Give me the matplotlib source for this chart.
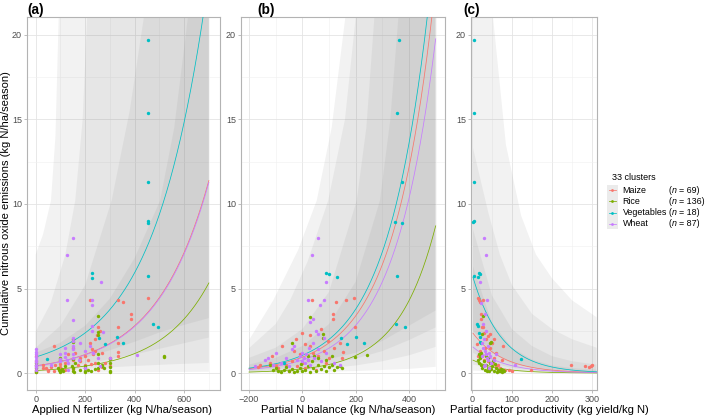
import matplotlib
matplotlib.use('Agg')
import matplotlib.pyplot as plt
from matplotlib.lines import Line2D
from matplotlib.patches import Rectangle
import numpy as np

plt.rcParams['font.family'] = ['Liberation Sans', 'DejaVu Sans']

W, H = 709, 419

groups = ['Maize', 'Rice', 'Vegetables', 'Wheat']
group_n = [69, 136, 18, 87]
colors = ['#F8766D', '#7CAE00', '#00BFC4', '#C77CFF']

# ---------------- panel (a): applied N fertilizer ----------------
a_maize_x = [219, 332, 354, 456, 386, 386, 332, 332, 332, 332, 73, 247, 240, 228, 219, 250, 260, 230, 270, 200,
             180, 150, 130, 160, 240, 225, 170, 120, 100, 80, 60, 40, 30, 0, 0, 0, 0, 50, 75, 150,
             200, 280, 300, 250, 270, 120, 0, 100, 150, 180, 210, 300, 240, 30, 48, 99]
a_maize_y = [4.3, 4.3, 4.2, 4.45, 3.5, 3.2, 2.7, 1.76, 1.27, 1.0, 1.62, 2.25, 2.0, 1.45, 1.76, 2.7, 2.5, 1.1, 1.2, 1.0,
             0.9, 0.8, 1.1, 1.2, 1.3, 0.55, 0.45, 0.6, 0.55, 0.45, 0.35, 0.3, 0.5, 0.4, 0.7, 1.0, 0.2, 0.15, 0.15, 0.25,
             0.5, 0.6, 0.9, 0.2, 0.35, 0.2, 0.05, 0.35, 1.5, 0.7, 0.8, 0.4, 0.6, 0.33, 0.17, 0.17]
a_rice_x = [517, 517, 253, 253, 253, 253, 150, 150, 0, 0, 0, 0, 0, 90, 95, 100, 100, 105, 110, 145,
            150, 150, 155, 150, 200, 200, 200, 200, 210, 225, 240, 250, 250, 270, 270, 275, 300, 300, 300, 300,
            300, 180, 160, 100, 100, 120]
a_rice_y = [1.0, 0.95, 3.37, 2.4, 2.25, 1.1, 2.0, 1.85, 0.6, 0.45, 0.3, 0.15, 0.05, 0.3, 0.2, 0.1, 0.05, 0.25, 0.15, 0.4,
            0.3, 0.15, 0.05, 0.85, 0.4, 0.3, 0.1, 0.05, 0.2, 0.15, 0.25, 0.6, 0.3, 0.5, 0.4, 0.3, 0.85, 0.6, 0.35, 0.15,
            0.05, 0.2, 0.6, 0.9, 0.8, 0.4]
a_veg_x = [456, 456, 456, 456, 456, 456, 473, 493, 228, 228, 328, 353, 257, 279, 46]
a_veg_y = [19.7, 15.4, 11.3, 9.0, 8.9, 5.72, 2.9, 2.74, 5.9, 5.64, 2.15, 1.8, 2.06, 1.7, 0.81]
a_wheat_x = [151, 127, 127, 151, 265, 226, 226, 272, 226, 226, 409, 0, 0, 0, 0, 0, 0, 0, 0, 0,
             100, 100, 100, 120, 120, 120, 125, 130, 150, 150, 150, 150, 150, 150, 175, 180, 200, 220, 230, 250,
             260, 200, 60, 130, 300]
a_wheat_y = [7.97, 6.98, 4.32, 3.14, 5.4, 4.3, 4.0, 2.4, 2.8, 2.5, 1.07, 1.4, 1.25, 1.1, 0.95, 0.8, 0.65, 0.5, 0.35, 0.2,
             1.1, 0.85, 0.7, 1.5, 1.2, 0.95, 0.8, 0.6, 2.1, 1.9, 1.6, 1.4, 1.1, 0.9, 0.8, 1.8, 1.3, 1.6, 1.2, 0.9,
             0.4, 0.3, 0.5, 0.2, 0.9]
# fitted curves y = a * exp(b * x)
a_fit_a = [0.43, 0.15, 0.95, 0.42]
a_fit_b = [0.00468, 0.0051, 0.00458, 0.00470]
a_range = (0, 700)
a_upper = [[(0, 7.0), (30, 8.2), (62, 10.2), (80, 14.0), (93, 21), (110, 32), (700, 32)],
           [(0, 2.44), (60, 4.1), (120, 7.0), (160, 10.2), (190, 15), (208, 21), (230, 32), (700, 32)],
           [(0, 1.5), (100, 2.8), (200, 5.2), (307, 10.2), (380, 15.5), (437, 21), (480, 32), (700, 32)],
           [(0, 1.2), (100, 1.8), (200, 2.8), (300, 4.4), (400, 6.8), (503, 10.2), (560, 14.5), (615, 21),
            (660, 32), (700, 32)]]
a_lower = [[(0, 0.02), (350, 0.04), (700, 0.08)],
           [(0, 0.1), (200, 0.25), (400, 0.42), (550, 0.52), (700, 0.6)],
           [(0, 0.2), (200, 0.55), (400, 1.1), (550, 1.6), (700, 2.1)],
           [(0, 0.3), (100, 0.55), (200, 0.9), (300, 1.35), (400, 1.85), (500, 2.4), (600, 2.85), (700, 3.25)]]

# ---------------- panel (b): partial N balance ----------------
b_maize_x = [37.5, 128, 164, 192, 114, 114, 197.8, 0, 29, -22, -75, 154, -115, -166, -160, -120, -100, -90, -60, -40,
             -20, 0, 10, 20, 40, 60, 80, 90, 100, 120, 140, 30, -10, 50, -50, 70, 95, 150, -30, 10]
b_maize_y = [4.32, 4.2, 4.3, 4.45, 3.5, 3.2, 2.7, 2.35, 2.25, 2.0, 1.62, 1.27, 1.0, 0.36, 0.45, 0.6, 0.4, 0.3, 0.5, 0.7,
             0.4, 0.6, 0.3, 0.8, 1.2, 1.0, 1.3, 0.6, 0.9, 1.5, 1.8, 1.6, 1.1, 0.2, 0.15, 2.6, 1.9, 0.9, 1.3, 1.7]
b_rice_x = [29, 76.5, 76.5, 241.5, 197.8, -40, -100, -90, -80, -70, -60, -50, -40, -30, -20, -10, 0, 10, 20, 30,
            40, 50, 60, 70, 80, 90, 100, 110, 120, 130, 140, 150, -110, -120, 35, 60, 90, 20, -5, 45, 110]
b_rice_y = [3.33, 2.3, 2.1, 1.06, 0.97, 1.76, 0.3, 0.15, 0.05, 0.2, 0.35, 0.1, 0.25, 0.05, 0.15, 0.3, 0.1, 0.2, 0.4, 0.05,
            0.3, 0.15, 0.5, 0.25, 0.4, 0.1, 0.35, 0.5, 0.2, 0.35, 0.4, 0.3, 0.2, 0.45, 0.7, 0.9, 0.8, 1.0, 0.55, 1.0, 1.0]
b_veg_x = [363, 356.5, 375, 349, 375, 356.5, 351, 384, 89, 101, 130, 144, 201.5, 232.6, 168, -67.5]
b_veg_y = [19.7, 15.4, 11.3, 8.95, 8.9, 5.72, 2.9, 2.74, 5.9, 5.86, 5.66, 2.06, 2.15, 1.8, 1.7, 0.61]
b_wheat_x = [57.8, 35, 89, 22.5, 83, 67.5, 40, 30, 50, 60, -130, -177, -140, -100, -80, -60, -40, -30, -20, -10,
             0, 0, 5, 10, 15, 20, 25, 30, 40, 45, 60, 70, 90, 120, 140, -50, 80, -110]
b_wheat_y = [7.97, 6.98, 5.4, 4.32, 4.32, 4.0, 3.2, 3.0, 2.5, 2.3, 0.9, 0.4, 0.8, 1.2, 0.6, 0.9, 1.4, 1.6, 0.8, 1.0,
             0.7, 1.2, 0.9, 0.6, 1.1, 0.8, 1.5, 0.5, 1.8, 0.9, 1.4, 0.7, 1.2, 0.6, 0.5, 0.4, 2.1, 0.5]
b_fit_a = [0.94, 0.25, 1.05, 0.77]
b_fit_b = [0.0064, 0.0071, 0.0064, 0.00649]
b_range = (-200, 500)
b_upper = [[(-200, 1.95), (-109, 4.3), (-15, 7.3), (54, 10.2), (110, 14.5), (161, 21), (185, 32), (500, 32)],
           [(-200, 1.47), (-100, 2.9), (-46, 4.3), (20, 6.6), (97, 10.2), (160, 15), (200, 21), (225, 32), (500, 32)],
           [(-200, 0.9), (-100, 1.5), (0, 2.6), (100, 4.8), (204, 10.2), (240, 14.5), (270, 21), (295, 32), (500, 32)],
           [(-200, 0.5), (-100, 0.9), (0, 1.6), (100, 2.9), (200, 5.4), (291, 10.2), (330, 15), (360, 21),
            (385, 32), (500, 32)]]
b_lower = [[(-200, 0.02), (0, 0.05), (200, 0.12), (400, 0.25), (500, 0.37)],
           [(-200, 0.05), (0, 0.15), (200, 0.45), (300, 0.7), (400, 1.05), (500, 1.55)],
           [(-200, 0.1), (0, 0.3), (200, 0.85), (300, 1.3), (400, 1.95), (500, 2.7)],
           [(-200, 0.15), (0, 0.45), (200, 1.2), (300, 1.9), (400, 2.8), (500, 3.7)]]

# ---------------- panel (c): partial factor productivity ----------------
c_maize_x = [16.5, 18, 20, 29, 22, 24, 26, 30, 35, 40, 45, 50, 55, 77.5, 247.5, 281.5, 291.5, 296, 300, 148,
             83.5, 92, 100, 60, 20, 25, 30, 35, 40, 45, 50, 55, 60, 65, 70, 15, 12, 33, 75, 28]
c_maize_y = [4.45, 4.3, 4.2, 4.3, 3.5, 3.2, 2.7, 2.35, 2.0, 2.2, 2.3, 1.8, 2.0, 1.6, 0.47, 0.41, 0.38, 0.42, 0.46, 0.16,
             0.16, 0.18, 0.15, 1.2, 1.3, 1.0, 0.8, 1.1, 0.7, 1.5, 0.6, 0.9, 0.4, 0.5, 0.3, 1.0, 1.7, 1.5, 0.8, 2.7]
c_rice_x = [29, 17, 21, 46, 48, 15, 18, 20, 22, 25, 28, 30, 32, 35, 38, 40, 42, 45, 48, 50,
            55, 60, 62, 65, 68, 70, 72, 75, 78, 80, 40, 36, 52, 58, 26, 24]
c_rice_y = [3.35, 1.1, 1.0, 1.8, 1.85, 0.8, 0.6, 0.9, 0.5, 0.3, 0.4, 0.7, 0.2, 0.5, 0.15, 0.3, 0.1, 0.6, 0.25, 0.4,
            0.15, 0.3, 0.05, 0.2, 0.1, 0.15, 0.25, 0.05, 0.2, 0.1, 0.9, 1.0, 0.7, 0.55, 2.3, 1.2]
c_veg_x = [5.75, 5.75, 5, 4, 5, 6.5, 16.5, 18, 21, 12, 15, 18, 20, 21, 24, 123]
c_veg_y = [19.7, 15.4, 11.3, 8.95, 9.0, 5.72, 5.66, 5.9, 5.86, 2.9, 2.8, 2.35, 2.15, 1.85, 1.8, 0.81]
c_wheat_x = [30.8, 35, 21, 37.5, 22, 33, 27, 36, 30, 25, 28, 32, 35, 38, 40, 42, 45, 48, 30, 34,
             108, 55, 60, 26, 40, 44]
c_wheat_y = [7.97, 6.98, 5.4, 4.32, 4.15, 3.5, 2.9, 2.5, 2.0, 1.8, 1.5, 1.3, 1.1, 0.9, 0.75, 1.2, 1.0, 0.6, 0.4, 0.5,
             0.47, 0.8, 1.1, 1.0, 1.6, 0.3]
c_fit_a = [2.45, 0.8, 5.9, 1.6]
c_fit_b = [-0.0132, -0.015, -0.0140, -0.013]
c_range = (3, 311)
c_upper = [[(3, 32), (40, 25), (53, 21), (85, 13.5), (123, 9.3), (160, 7.0), (200, 5.6), (250, 4.3), (311, 3.3)],
           [(3, 13.3), (41, 9.5), (70, 7.0), (100, 5.2), (150, 3.5), (200, 2.6), (250, 2.0), (311, 1.5)],
           [(3, 8.5), (50, 4.6), (100, 2.6), (150, 1.6), (200, 1.0), (250, 0.7), (311, 0.5)],
           [(3, 6.3), (50, 3.0), (100, 1.5), (150, 0.8), (200, 0.45), (250, 0.3), (311, 0.2)]]
c_lower = [[(3, 0.15), (100, 0.05), (311, 0.0)],
           [(3, 0.5), (50, 0.3), (100, 0.15), (200, 0.04), (311, 0.01)],
           [(3, 1.2), (50, 0.6), (100, 0.3), (200, 0.07), (311, 0.02)],
           [(3, 2.5), (50, 1.2), (100, 0.55), (200, 0.12), (311, 0.03)]]


def px_axes(left, right, top, bottom):
    return [left / W, 1 - bottom / H, (right - left) / W, (bottom - top) / H]


def draw_panel(ax, pts, fa, fb, xr, upper, lower, xlim, xmaj, xmin):
    # confidence ribbons
    for up, lo in zip(upper, lower):
        xs = [p[0] for p in up] + [p[0] for p in lo[::-1]]
        ys = [p[1] for p in up] + [p[1] for p in lo[::-1]]
        ax.fill(xs, ys, color='#808080', alpha=0.1, lw=0, zorder=1)
    xx = np.linspace(xr[0], xr[1], 300)
    for i in range(4):
        ax.plot(xx, fa[i] * np.exp(fb[i] * xx), color=colors[i], lw=0.55, zorder=3)
    for i, (px, py) in enumerate(pts):
        ax.scatter(px, py, s=6, color=colors[i], lw=0, zorder=4)
    ax.set_xlim(*xlim)
    ax.set_ylim(-1.0, 21.05)
    ax.set_xticks(xmaj)
    ax.set_xticks(xmin, minor=True)
    ax.set_yticks([0, 5, 10, 15, 20])
    ax.set_yticks([2.5, 7.5, 12.5, 17.5], minor=True)
    ax.grid(which='major', color='#E4E4E4', lw=0.6)
    ax.grid(which='minor', color='#F0F0F0', lw=0.4)
    ax.set_axisbelow(True)
    ax.tick_params(which='major', length=2.5, width=0.6, color='#B3B3B3',
                   labelsize=6.5, labelcolor='#4D4D4D', pad=1.2)
    ax.tick_params(which='minor', length=0)
    for s in ax.spines.values():
        s.set_color('#B3B3B3')
        s.set_linewidth(0.8)


fig = plt.figure(figsize=(W / 100, H / 100), dpi=100)
ax_a = fig.add_axes(px_axes(27, 220, 17, 390))
ax_b = fig.add_axes(px_axes(241, 445, 17, 390))
ax_c = fig.add_axes(px_axes(471, 597, 17, 390))

draw_panel(ax_a, [(a_maize_x, a_maize_y), (a_rice_x, a_rice_y), (a_veg_x, a_veg_y), (a_wheat_x, a_wheat_y)],
           a_fit_a, a_fit_b, a_range, a_upper, a_lower, (-35, 745), [0, 200, 400, 600], [100, 300, 500, 700])
draw_panel(ax_b, [(b_maize_x, b_maize_y), (b_rice_x, b_rice_y), (b_veg_x, b_veg_y), (b_wheat_x, b_wheat_y)],
           b_fit_a, b_fit_b, b_range, b_upper, b_lower, (-230, 535), [-200, 0, 200, 400], [-100, 100, 300, 500])
draw_panel(ax_c, [(c_maize_x, c_maize_y), (c_rice_x, c_rice_y), (c_veg_x, c_veg_y), (c_wheat_x, c_wheat_y)],
           c_fit_a, c_fit_b, c_range, c_upper, c_lower, (-2, 312), [0, 100, 200, 300], [50, 150, 250])


def ftext(px, py, s, **kw):
    fig.text(px / W, 1 - py / H, s, **kw)


# panel tags
ftext(27, 10, '(a)', fontsize=9.8, fontweight='bold', va='center', ha='left')
ftext(257, 10, '(b)', fontsize=9.8, fontweight='bold', va='center', ha='left')
ftext(463, 10, '(c)', fontsize=9.8, fontweight='bold', va='center', ha='left')

# axis titles
ftext(122, 410, 'Applied N fertilizer (kg N/ha/season)', fontsize=8.1, ha='center', va='center')
ftext(348, 410, 'Partial N balance (kg N/ha/season)', fontsize=8.1, ha='center', va='center')
ftext(549, 410, 'Partial factor productivity (kg yield/kg N)', fontsize=8.1, ha='center', va='center')
ftext(6, 203, 'Cumulative nitrous oxide emissions (kg N/ha/season)', fontsize=8.0,
      rotation=90, ha='center', va='center')

# legend
ftext(611.5, 177, '33 clusters', fontsize=6.5, ha='left', va='center')
for i, g in enumerate(groups):
    yc = 190.2 + i * 11.2
    fig.add_artist(Rectangle((606.5 / W, 1 - (yc + 5.5) / H), 11 / W, 11 / H,
                             transform=fig.transFigure, facecolor='#EBEBEB', edgecolor='none'))
    fig.add_artist(Line2D([608.5 / W, 615.5 / W], [1 - yc / H, 1 - yc / H], transform=fig.transFigure,
                          color=colors[i], lw=0.55))
    fig.add_artist(Line2D([612 / W], [1 - yc / H], transform=fig.transFigure, color=colors[i],
                          marker='o', markersize=2.0, markeredgewidth=0, lw=0))
    ftext(622.5, yc, g, fontsize=6.4, ha='left', va='center')
    ftext(668.5, yc, '(', fontsize=6.4, ha='left', va='center')
    ftext(671.6, yc, 'n', fontsize=6.4, style='italic', ha='left', va='center')
    ftext(679.0, yc, '= %d)' % group_n[i], fontsize=6.4, ha='left', va='center')

fig.savefig('out.png', dpi=100)
